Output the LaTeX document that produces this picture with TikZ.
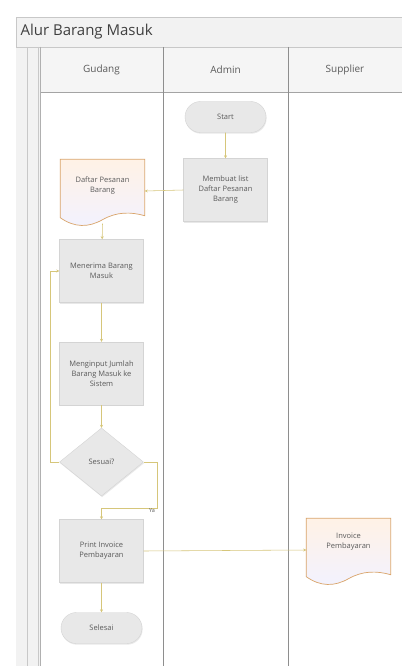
\documentclass[tikz,border=0pt]{standalone}
\usepackage{fontspec}
\setmainfont{Open Sans}
\usetikzlibrary{shapes.geometric,shapes.misc,arrows.meta,calc,shadows}
\definecolor{conn}{HTML}{D6C67A}
\definecolor{boxfill}{HTML}{E8E8E8}
\definecolor{boxline}{HTML}{D4D4D4}
\definecolor{lane}{HTML}{8E8E8E}
\definecolor{frame}{HTML}{C8C8C8}
\definecolor{docline}{HTML}{D9A46A}
\definecolor{txt}{HTML}{5A5A5A}
\newcommand{\nodefont}{\fontsize{7.5}{10}\selectfont\hyphenpenalty=10000\exhyphenpenalty=10000}
\tikzset{
  procbox/.style={rectangle, fill=boxfill, draw=boxline, line width=0.4pt, minimum width=84pt, minimum height=63pt, inner sep=2pt, align=center, font=\nodefont, text=txt, drop shadow={opacity=0.18, shadow xshift=0.6pt, shadow yshift=-1.2pt}},
  termbox/.style={rounded rectangle, fill=boxfill, draw=boxline, line width=0.4pt, minimum width=85pt, minimum height=31pt, inner sep=2pt, font=\nodefont, text=txt, drop shadow={opacity=0.18, shadow xshift=0.6pt, shadow yshift=-1.2pt}},
  decbox/.style={diamond, fill=boxfill, draw=boxline, line width=0.4pt, minimum width=84pt, minimum height=68pt, inner sep=0pt, font=\nodefont, text=txt, drop shadow={opacity=0.18, shadow xshift=0.6pt, shadow yshift=-1.2pt}},
  docbox/.style={rectangle, draw=none, minimum width=84pt, minimum height=63pt, inner sep=0pt},
  doctext/.style={align=center, font=\nodefont, text=txt},
  docshape/.style={draw=docline, line width=0.7pt, top color=orange!10, bottom color=blue!5},
  arr/.style={draw=conn, line width=0.55pt, -{Stealth[length=3pt,width=3pt]}},
  lanehead/.style={font=\fontsize{10}{12}\selectfont, text=txt},
}
\begin{document}
\begin{tikzpicture}[x=1pt,y=-1pt]
\useasboundingbox (0,0) rectangle (402,666);
\fill[white] (0,0) rectangle (402,666);
% frame and title
\fill[black!5] (16,17) rectangle (402,47);
\draw[frame, line width=0.8pt] (16,666) -- (16,17) -- (402,17);
\node[anchor=west, font=\fontsize{15}{17}\selectfont, text=black!75] (title) at (17,32) {Alur Barang Masuk};
% left strip
\fill[black!5] (16,47) rectangle (40,666);
\draw[frame, line width=0.6pt] (27,47) -- (27,666);
\draw[frame, line width=0.6pt] (38,47) -- (38,666);
% header row
\fill[black!4] (40,47) rectangle (402,92);
\draw[frame, line width=0.6pt] (16,47) -- (402,47);
\draw[lane!80, line width=0.8pt] (40,92) -- (402,92);
\draw[lane!70, line width=0.6pt] (40,47) -- (40,666);
\draw[lane, line width=0.8pt] (163,47) -- (163,666);
\draw[lane, line width=0.8pt] (288,47) -- (288,666);
\node[lanehead] (hgud) at (101.5,70) {Gudang};
\node[lanehead] (hadm) at (225.5,70) {Admin};
\node[lanehead] (hsup) at (345,70) {Supplier};
% nodes
\node[termbox] (start) at (225.5,117) {Start};
\node[procbox] (buat) at (225.5,190) {Membuat list\\Daftar Pesanan\\Barang};
\node[docbox] (daftar) at (102.5,191) {};
\path[docshape] (daftar.north west) -- (daftar.north east) -- ([shift={(0,-7)}]daftar.south east)
  .. controls ([shift={(-14,-11)}]daftar.south east) and ([shift={(14,-11)}]daftar.south) .. ([shift={(0,-3)}]daftar.south)
  .. controls ([shift={(-14,5)}]daftar.south) and ([shift={(14,5)}]daftar.south west) .. ([shift={(0,-5)}]daftar.south west) -- cycle;
\node[doctext] (daftart) at (102.5,186) {Daftar Pesanan\\Barang};
\node[procbox] (terima) at (101.5,271) {Menerima Barang\\Masuk};
\node[procbox] (input) at (101.5,373.5) {Menginput Jumlah\\Barang Masuk ke\\Sistem};
\node[decbox] (sesuai) at (101.5,462) {Sesuai?};
\node[procbox] (print) at (101.5,551) {Print Invoice\\Pembayaran};
\node[termbox] (selesai) at (101.5,628) {Selesai};
\node[docbox] (invoice) at (348.5,550) {};
\path[docshape] (invoice.north west) -- (invoice.north east) -- ([shift={(0,-7)}]invoice.south east)
  .. controls ([shift={(-14,-11)}]invoice.south east) and ([shift={(14,-11)}]invoice.south) .. ([shift={(0,-3)}]invoice.south)
  .. controls ([shift={(-14,5)}]invoice.south) and ([shift={(14,5)}]invoice.south west) .. ([shift={(0,-5)}]invoice.south west) -- cycle;
\node[doctext] (invoicet) at (348.5,542) {Invoice\\Pembayaran};
% connectors
\draw[arr] (start) -- (buat);
\draw[arr] (buat.west) -- (daftar.east);
\draw[arr] ([shift={(0,1)}]daftar.south) -- (terima);
\draw[arr] (terima) -- (input);
\draw[arr] (input) -- (sesuai);
\coordinate (loopa) at (50,462);
\coordinate (loopb) at (50,271);
\draw[arr] (sesuai.west) -- (loopa) -- (loopb) -- (terima.west);
\coordinate (yaa) at (157,462);
\coordinate (yab) at (157,508);
\coordinate (yac) at (101.5,508);
\draw[arr] (sesuai.east) -- (yaa) -- (yab) -- (yac) -- (print.north);
\node[font=\fontsize{5.5}{6}\selectfont, text=txt] (ya) at (152,511) {Ya};
\draw[arr] (print.east) -- (invoice.west);
\draw[arr] (print) -- (selesai);
\end{tikzpicture}
\end{document}
